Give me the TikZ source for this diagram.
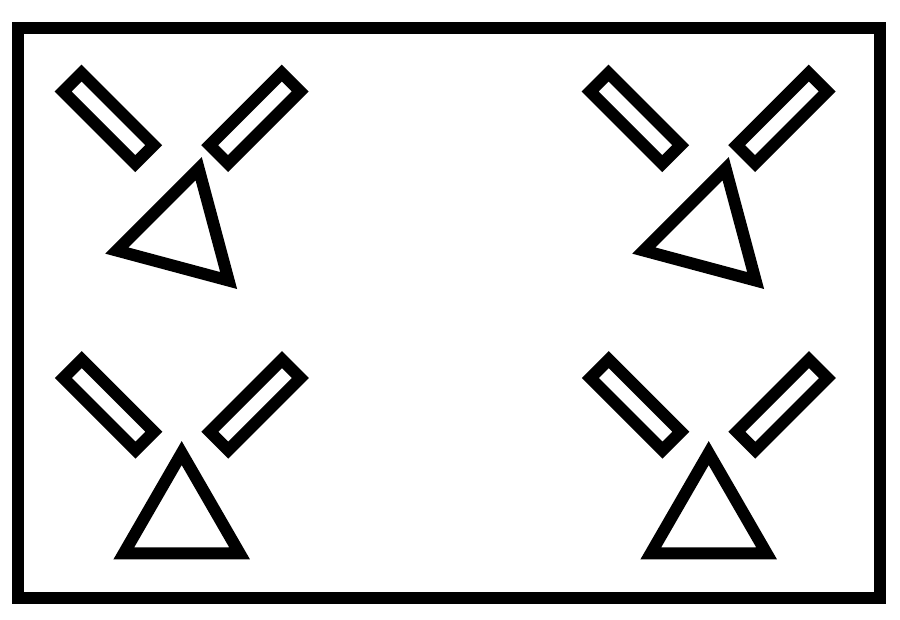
\documentclass[tikz,border=0pt]{standalone}
\tikzset{
  shapeline/.style={draw=black, line width=12pt},
  barshape/.pic={\draw[shapeline] (-51,-13) rectangle (51,13);}
}
\begin{document}
\begin{tikzpicture}[x=1pt,y=1pt]
  \useasboundingbox (0,0) rectangle (900,620);
  \draw[shapeline] (18,22) rectangle (880,592);
  \foreach \cx/\cy/\a in {181.4/386.7/75, 708.4/386.7/75, 181.7/100.1/90, 708.7/100.1/90}{
    \begin{scope}[shift={(\cx,\cy)}]
      \pic[rotate=-45] at (-73,115) {barshape};
      \pic[rotate=45] at (73.5,115) {barshape};
      \draw[shapeline] (\a:66.8) -- (\a+120:66.8) -- (\a+240:66.8) -- cycle;
    \end{scope}
  }
\end{tikzpicture}
\end{document}
